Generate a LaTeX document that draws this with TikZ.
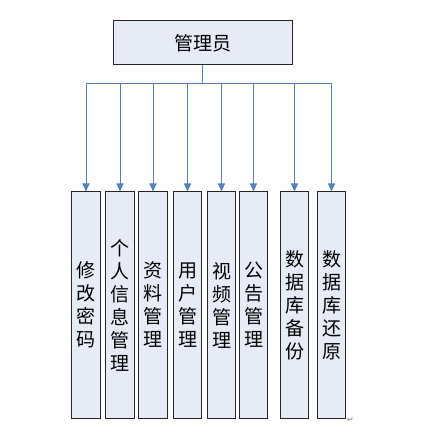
\documentclass[tikz,border=0pt]{standalone}
\usepackage{fontspec}
\newfontfamily\cjk{Noto Sans CJK SC}
\newfontfamily\symfont{DejaVu Sans}
\usetikzlibrary{arrows.meta}
\definecolor{boxfill}{RGB}{230,235,245}
\definecolor{linkblue}{RGB}{79,129,189}
\begin{document}
\begin{tikzpicture}[x=1pt,y=-1pt]
		\tikzstyle{every node}+=[inner sep=0pt]
		\tikzstyle{box}=[draw=black!85, fill=boxfill, line width=1pt, font=\cjk\fontsize{19}{23}\selectfont, align=center]
		\tikzstyle{link}=[draw=linkblue, line width=0.9pt]
		\useasboundingbox (0,0) rectangle (431,435);
		% top box
		\node [box, minimum width=179pt, minimum height=44pt] (admin) at (202.5,43) {管理员};
		\coordinate (bus) at (202.5,83);
		\draw [link] (admin.south) -- (bus);
		% module boxes
		\foreach \x/\name/\txt in {86/pwd/{修\\改\\密\\码}, 120/info/{个\\人\\信\\息\\管\\理}, 153/data/{资\\料\\管\\理}, 187.5/user/{用\\户\\管\\理}, 221.5/video/{视\\频\\管\\理}, 253.5/notice/{公\\告\\管\\理}, 294.5/backup/{数\\据\\库\\备\\份}, 331.5/restore/{数\\据\\库\\还\\原}}
		{
			\node [box, minimum width=28.5pt, minimum height=226pt] (\name) at (\x,305) {\txt};
			\coordinate (\name-top) at (\x,83);
			\draw [link, -{Triangle[width=7pt,length=8pt]}] (\name-top) -- (\name.north);
		}
		\draw [link] (pwd-top) -- (restore-top);
		\node [font=\symfont\fontsize{8}{8}\selectfont, text=black!50, anchor=west] (mark) at (347,420) {↵};
	\end{tikzpicture}
\end{document}
